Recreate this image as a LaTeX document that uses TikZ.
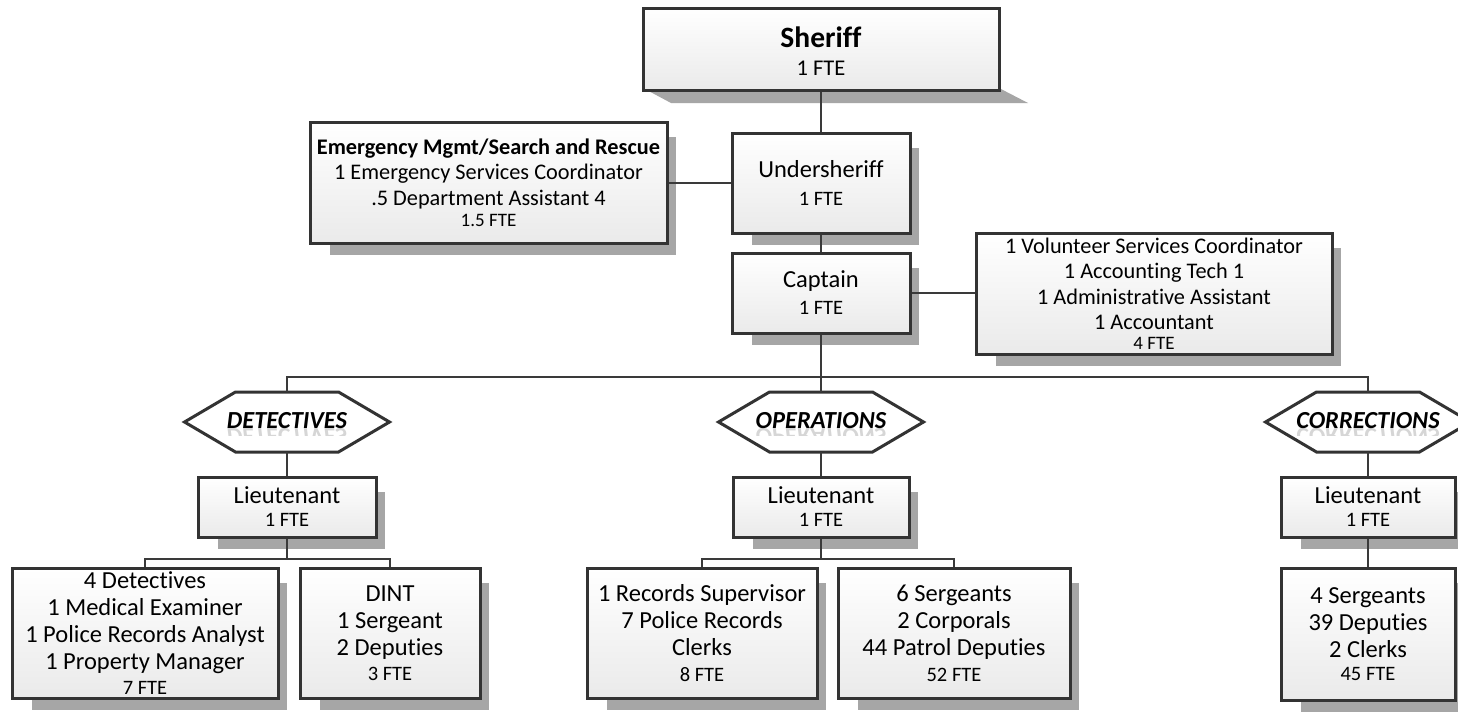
\documentclass[tikz,border=0pt]{standalone}
\usepackage{fontspec}
\setmainfont{Carlito}[Ligatures=NoCommon]
\usetikzlibrary{calc}
\definecolor{bordc}{HTML}{333333}
\definecolor{linec}{HTML}{3A3A3A}
\definecolor{shadc}{HTML}{A6A6A6}
\definecolor{fillb}{HTML}{EAEAEA}
\definecolor{reflc}{HTML}{D6D6D6}
\tikzset{
  orgbox/.style={draw=bordc, line width=3pt, top color=white, bottom color=fillb,
    inner sep=0pt, align=center, font=\fontsize{24.5}{27}\selectfont},
  sidebox/.style={orgbox, font=\fontsize{22.3}{25.5}\selectfont},
  conn/.style={draw=linec, line width=2pt},
  hexbox/.style={inner sep=0pt, minimum width=205pt, minimum height=60pt},
  hextext/.style={inner sep=0pt, font=\fontsize{24.5}{28}\selectfont\bfseries\itshape},
  hexline/.style={draw=bordc, line width=3pt, fill=white, line join=miter},
}
\newcommand\fte[1]{{\fontsize{20.5}{22}\selectfont #1}}
\newcommand\mkbox[7]{% style,name,x1,y1,x2,y2,text
  \fill[shadc] ({#3+20},{#4+15}) rectangle ({#5+9},{#6+12});
  \pgfmathsetmacro\bw{#5-#3}\pgfmathsetmacro\bh{#6-#4}
  \node[#1, minimum width=\bw pt, minimum height=\bh pt] (#2) at ({(#3+#5)/2},{(#4+#6)/2}) {#7};
}
\newcommand\mkhex[4]{% name,cx,cy,text
  \draw[hexline] ({#2-102.5},#3) -- ({#2-51.5},{#3-30}) -- ({#2+51.5},{#3-30})
     -- ({#2+102.5},#3) -- ({#2+51.5},{#3+30}) -- ({#2-51.5},{#3+30}) -- cycle;
  \node[hexbox] (#1) at (#2,#3) {};
  \begin{scope}
    \clip ({#2-100},{#3+6}) rectangle ({#2+100},{#3+13});
    \node[hextext, text=reflc, anchor=base] (#1r) at (#2,{#3+6}) {\scalebox{1}[-1]{#4}};
  \end{scope}
  \node[hextext, anchor=base] (#1t) at (#2,{#3+6}) {#4};
}
\begin{document}
\begin{tikzpicture}[x=1pt,y=-1pt]
\useasboundingbox (0,0) rectangle (1458,712);
\clip (0,0) rectangle (1458,712);
\fill[white] (0,0) rectangle (1458,712);

% Sheriff with perspective shadow
\fill[shadc] (643,88) -- (999,88) -- (1028,103) -- (671,103) -- cycle;
\node[orgbox, minimum width=356pt, minimum height=82pt, font=\fontsize{20}{25}\selectfont]
  (sheriff) at (821,49) {};
\node[inner sep=0pt, align=center, font=\fontsize{20}{25}\selectfont]
  (sheriffT) at (821,51) {{\fontsize{29.5}{30}\selectfont\bfseries Sheriff}\\[3pt]{\fontsize{22.5}{24}\selectfont 1 FTE}};

\mkbox{sidebox}{emerg}{310}{122}{667}{243}{\textbf{Emergency Mgmt/Search and Rescue}\\1 Emergency Services Coordinator\\.5 Department Assistant 4\\[-4pt]{\fontsize{19}{20}\selectfont 1.5 FTE}}
\mkbox{orgbox}{under}{732}{133}{910}{233}{Undersheriff\\[1pt]\fte{1 FTE}}
\mkbox{orgbox}{capt}{732}{253}{910}{333}{Captain\\\fte{1 FTE}}
\mkbox{sidebox}{vol}{976}{233}{1332}{354}{1 Volunteer Services Coordinator\\1 Accounting Tech 1\\1 Administrative Assistant\\1 Accountant\\[-6pt]{\fontsize{19}{20}\selectfont 4 FTE}}

\mkhex{hexD}{287}{422}{DETECTIVES}
\mkhex{hexO}{821}{422}{OPERATIONS}
\mkhex{hexC}{1368}{422}{CORRECTIONS}

\mkbox{orgbox}{ltD}{198}{477}{376}{537}{Lieutenant\\[-4pt]\fte{1 FTE}}
\mkbox{orgbox}{ltO}{733}{477}{909}{537}{Lieutenant\\[-4pt]\fte{1 FTE}}
\mkbox{orgbox}{ltC}{1281}{477}{1455}{537}{Lieutenant\\[-4pt]\fte{1 FTE}}

\mkbox{orgbox}{boxA}{12}{568}{278}{698}{4 Detectives\\1 Medical Examiner\\1 Police Records Analyst\\1 Property Manager\\[-2pt]\fte{7 FTE}}
\mkbox{orgbox}{boxB}{300}{568}{480}{698}{DINT\\1 Sergeant\\2 Deputies\\[-2pt]\fte{3 FTE}}
\mkbox{orgbox}{boxC}{587}{568}{817}{698}{1 Records Supervisor\\7 Police Records\\Clerks\\[-1pt]\fte{8 FTE}}
\mkbox{orgbox}{boxD}{838}{568}{1070}{698}{6 Sergeants\\2 Corporals\\44 Patrol Deputies\\[-1pt]\fte{52 FTE}}
\mkbox{orgbox}{boxE}{1281}{568}{1455}{700}{4 Sergeants\\39 Deputies\\2 Clerks\\[-4pt]\fte{45 FTE}}

% connectors
\coordinate (busTop) at (821,377);
\coordinate (busD) at (287,559);
\coordinate (busO) at (821,559);
\draw[conn] (sheriff.south) -- (under.north);
\draw[conn] (emerg.east) -- (emerg.east -| under.west);
\draw[conn] (under.south) -- (capt.north);
\draw[conn] (capt.east) -- (capt.east -| vol.west);
\draw[conn] (capt.south) -- (busTop);
\draw[conn] (hexD.north) |- (busTop) -| (hexC.north);
\draw[conn] (busTop) -- (hexO.north);
\draw[conn] (hexD.south) -- (ltD.north);
\draw[conn] (hexO.south) -- (ltO.north);
\draw[conn] (hexC.south) -- (ltC.north);
\draw[conn] (ltD.south) -- (busD);
\draw[conn] (boxA.north) |- (busD) -| (boxB.north);
\draw[conn] (ltO.south) -- (busO);
\draw[conn] (boxC.north) |- (busO) -| (boxD.north);
\draw[conn] (ltC.south) -- (boxE.north);
\end{tikzpicture}
\end{document}
